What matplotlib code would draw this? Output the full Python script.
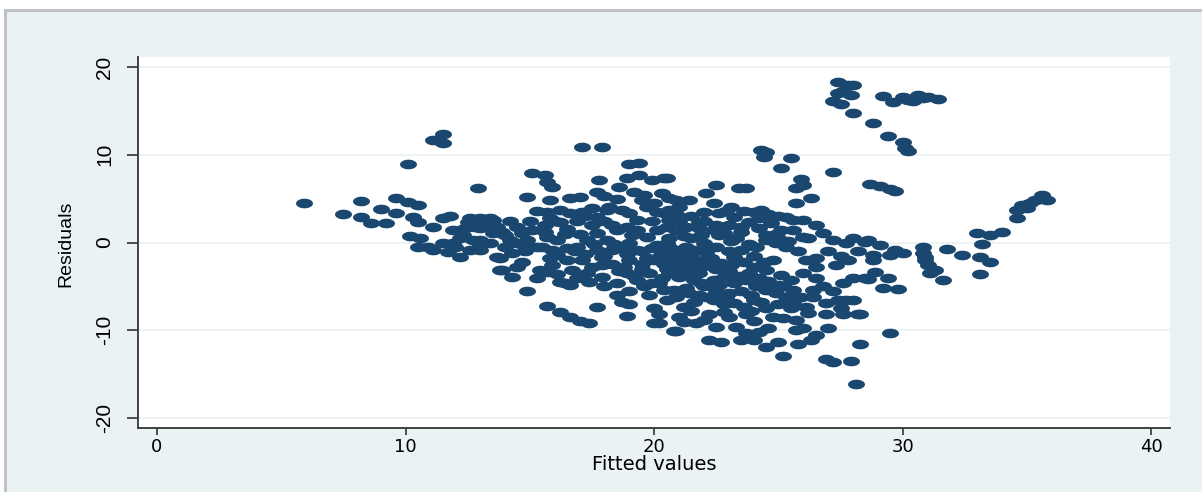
import numpy as np
import matplotlib
matplotlib.use("Agg")
import matplotlib.pyplot as plt
from matplotlib import font_manager
from matplotlib.path import Path
from matplotlib.patches import Rectangle
from matplotlib.lines import Line2D

plt.rcParams["axes.unicode_minus"] = False

# fitted values / residuals, grouped by region
fitted = [
    # left tail
    5.9, 7.5, 8.2, 8.2, 8.6, 9.0, 9.2, 9.6, 10.1, 10.1,
    10.5, 9.6, 10.3, 10.5, 10.2, 10.6, 10.5, 10.9, 11.1, 11.1,
    11.5, 11.5, 11.5, 11.8, 11.1, 12.9, 11.7, 12.2, 11.9, 12.5,
    13.0, 13.5, 12.3, 12.7, 13.0, 11.9, 13.0, 13.7, 13.8, 13.5,
    11.5, 12.0, 12.2, 12.8, 13.5, 14.0,
    # 13 - 21
    17.1, 17.9, 19.0, 19.4, 15.1, 15.6, 15.7, 15.9, 17.8, 18.9,
    19.4, 19.9, 20.4, 14.9, 15.8, 16.6, 17.0, 17.7, 18.0, 18.6,
    19.2, 19.6, 20.3, 20.6, 15.3, 15.7, 16.2, 16.6, 17.1, 17.5,
    18.1, 18.7, 19.0, 19.7, 20.1, 20.6, 15.8, 15.6, 16.2, 12.6,
    12.9, 13.4, 13.0, 13.7, 13.9, 14.5, 14.7, 15.1, 13.0, 13.4,
    14.0, 14.5, 14.9, 15.3, 15.7, 16.1, 16.5, 16.9, 17.3, 17.7,
    18.1, 18.5, 18.9, 19.3, 19.7, 20.1, 20.5, 20.9, 13.8, 14.3,
    14.7, 13.9, 14.3, 14.9, 15.4, 15.8, 16.1, 15.3, 15.7, 16.2,
    16.6, 16.7, 17.1, 17.5, 17.9, 18.3, 17.4, 17.9, 18.5, 18.9,
    19.3, 19.6, 19.9, 20.4, 17.7, 15.7, 16.2, 16.6, 17.0, 17.4,
    18.9, 20.0, 20.8, 20.4, 20.8, 20.2, 19.5, 20.6, 20.1, 18.7,
    18.3, 17.7, 12.6, 16.5, 16.0, 17.0, 15.5, 14.8, 18.0, 17.5,
    16.8, 18.0, 18.8, 19.5, 20.3, 19.0, 20.0, 19.8, 19.0, 18.5,
    18.0, 20.5, 19.0, 19.0, 19.5, 20.0, 19.8, 18.5, 19.5, 20.0,
    18.2, 16.4, 17.2, 14.5, 18.7,
    # dense core 20 - 29
    20.5, 22.5, 23.4, 23.7, 22.1, 21.4, 20.9, 22.4, 23.1, 24.3,
    22.6, 23.2, 24.0, 25.3, 25.6, 26.0, 20.4, 20.6, 21.3, 21.8,
    22.4, 22.8, 23.5, 24.2, 24.7, 25.1, 25.6, 26.0, 26.8, 27.2,
    27.7, 28.5, 23.3, 24.1, 24.5, 24.9, 25.3, 26.1, 26.5, 26.5,
    27.3, 27.8, 28.0, 28.5, 20.5, 20.9, 21.3, 21.7, 22.1, 20.8,
    21.2, 21.6, 22.4, 23.2, 23.6, 24.0, 24.5, 25.1, 25.5, 20.6,
    21.0, 21.6, 22.0, 22.4, 22.8, 23.2, 23.7, 24.1, 24.5, 24.9,
    25.3, 25.9, 26.1, 20.2, 20.8, 21.4, 22.1, 22.9, 23.2, 21.2,
    22.2, 22.8, 23.7, 25.2, 25.7, 26.9, 27.4, 27.7, 26.9, 27.6,
    28.2, 20.2, 21.2, 21.7, 20.9, 23.3, 23.7, 24.2, 24.6, 25.7,
    26.0, 27.0, 22.2, 22.7, 23.5, 24.0, 24.5, 25.0, 25.8, 26.3,
    25.2, 28.3, 26.9, 27.2, 27.9, 28.1, 29.5, 28.3, 21.0, 21.5,
    22.0, 21.2, 21.8, 22.5, 22.0, 21.5, 22.5, 23.0, 23.5, 23.0,
    23.8, 24.2, 23.5, 22.5, 21.8, 22.8, 24.0, 24.5, 25.0, 25.5,
    21.0, 21.5, 22.0, 22.5, 23.0, 23.8, 24.5, 25.0, 25.8, 26.0,
    26.5, 26.8, 27.2, 25.2, 24.8, 24.0, 23.5, 22.0, 21.0, 21.5,
    21.0, 22.0, 23.0, 24.0, 24.8, 26.5, 27.5, 28.0, 26.2, 25.0,
    24.2, 26.5, 26.2, 27.0, 27.5, 28.2, 28.0,
    # filling the crowded middle
    20.3, 20.7, 21.1, 21.4, 21.9, 22.3, 22.7, 23.1, 23.4, 22.6,
    21.9, 21.3, 20.9, 21.6, 22.4, 23.0, 23.9, 24.3, 23.6, 24.6,
    25.0, 25.6, 24.4, 23.8, 23.1, 22.6, 21.9, 21.2, 20.6, 19.9,
    19.3, 18.9, 19.7, 20.5, 19.2, 18.6, 17.9, 17.3, 16.9, 16.1,
    15.9, 16.5, 17.2, 17.6, 18.4, 19.1, 18.3, 17.7, 16.9, 16.4,
    15.6, 15.0, 14.2, 13.2, 12.4, 14.2, 14.8, 15.9, 24.9, 25.4,
    24.6, 23.6, 22.9, 21.8, 20.9, 19.9, 19.3, 20.2, 22.5, 23.9,
    25.6, 26.4, 26.4, 27.6,
    # upper right arm
    24.5, 24.4, 25.5, 25.1, 27.2, 25.9, 26.0, 25.7, 26.3, 25.7,
    24.3, 27.4, 27.8, 27.4, 27.2, 27.5, 27.6, 27.9, 28.0, 28.8,
    29.4, 30.0, 30.2, 30.1, 29.2, 29.6, 30.0, 30.2, 30.4, 30.6,
    31.0, 31.4, 30.8, 28.7, 29.1, 29.5, 29.7, 28.0,
    # right tail
    28.6, 29.1, 28.8, 28.8, 29.5, 29.7, 30.0, 28.9, 29.4, 28.6,
    29.2, 29.8, 30.8, 30.8, 30.9, 31.0, 31.3, 31.6, 31.8, 32.4,
    33.0, 33.5, 34.0, 33.2, 33.1, 33.5, 33.1, 34.6, 34.6, 34.8,
    35.1, 35.3, 35.6, 35.8, 35.0, 30.9, 31.1, 35.5,
]
residuals = [
    # left tail
    4.5, 3.2, 4.7, 2.9, 2.2, 3.8, 2.2, 5.1, 9.0, 4.6,
    4.3, 3.4, 2.9, 2.3, 0.7, 0.5, -0.5, -0.5, -0.9, 11.7,
    12.4, 11.3, 2.8, 3.0, 1.8, 6.2, -1.1, -1.7, 1.4, 2.3,
    2.8, 2.6, 0.9, 0.3, -0.3, -0.1, -0.9, -1.7, -3.1, 1.1,
    0.0, -0.5, 0.5, 1.8, 2.0, 0.8,
    # 13 - 21
    10.9, 10.9, 8.9, 9.1, 7.9, 7.7, 6.9, 6.3, 7.1, 7.4,
    7.7, 7.1, 7.4, 5.2, 4.8, 5.1, 5.2, 5.8, 5.3, 6.3,
    5.8, 5.4, 5.6, 5.1, 3.6, 3.5, 3.7, 3.4, 3.5, 3.9,
    3.7, 3.7, 3.4, 4.0, 3.5, 3.7, 2.8, 2.0, 2.3, 2.8,
    2.6, 2.8, 1.7, 1.8, 1.2, 1.8, 1.1, 1.4, 0.3, -0.1,
    -0.5, -0.1, 0.3, -0.5, 0.6, 0.3, -0.6, -0.5, 0.3, 1.1,
    0.3, 1.4, 1.8, 1.4, 0.6, 1.4, 1.8, 1.4, -1.8, -1.2,
    -2.2, -3.1, -3.9, -5.5, -3.1, -1.8, -1.4, -4.0, -3.4, -4.5,
    -4.8, -3.1, -2.0, -2.8, -1.6, -2.4, -4.5, -3.9, -4.6, -3.5,
    -4.3, -5.0, -4.6, -5.4, -7.3, -7.2, -7.9, -8.5, -9.0, -9.2,
    -8.4, -9.2, -10.1, -2.4, -3.1, -1.6, -2.4, -0.5, -0.3, -0.5,
    -0.9, -0.9, -0.9, 1.5, 2.5, 1.0, -0.5, -1.0, 2.5, 2.0,
    -1.0, -1.5, -2.8, -3.0, -4.0, -7.0, -7.5, -6.0, -5.5, -6.0,
    -5.0, -6.5, 0.0, -2.0, -1.0, -2.0, -3.5, 5.0, 4.8, 4.5,
    4.0, -4.6, 3.0, -2.8, -6.8,
    # dense core 20 - 29
    7.3, 6.6, 6.2, 6.2, 5.6, 4.8, 4.8, 4.5, 4.1, 3.7,
    3.4, 2.9, 3.5, 2.9, 2.6, 2.6, 3.4, 2.6, 1.8, 1.7,
    1.4, 1.1, 1.2, 1.7, 2.2, 1.4, 1.4, 0.6, 1.1, 0.3,
    -0.1, 0.1, 0.5, -0.5, 0.3, -0.1, -0.5, -2.0, -1.8, -2.8,
    -2.6, -2.0, -4.0, -4.0, -0.1, -0.9, -0.5, -0.9, -1.1, -1.6,
    -2.0, -2.4, -2.6, -1.6, -2.2, -2.8, -3.1, -3.7, -4.3, -3.5,
    -3.9, -4.3, -5.0, -4.3, -3.9, -4.6, -4.3, -5.0, -5.4, -5.8,
    -6.2, -6.2, -7.3, -4.6, -5.4, -5.8, -6.2, -6.2, -6.9, -7.3,
    -8.1, -7.9, -8.2, -8.6, -8.8, -6.9, -6.6, -6.6, -8.1, -8.1,
    -8.1, -9.2, -9.1, -9.2, -10.1, -9.6, -10.3, -10.2, -9.8, -10.0,
    -9.8, -9.8, -11.1, -11.3, -11.1, -11.1, -11.9, -11.4, -11.6, -11.1,
    -12.9, -11.6, -13.3, -13.6, -13.5, -16.1, -10.3, -8.1, -1.0, -1.5,
    -2.0, -3.0, -3.5, -3.0, 0.0, 0.5, -0.5, -1.0, -0.8, -3.2,
    -3.5, -4.0, -5.5, -5.5, -6.0, -7.0, -6.5, -7.5, -7.0, -7.5,
    2.5, 3.0, 2.5, 2.0, 2.0, 2.3, 0.8, 0.5, -1.0, -3.5,
    -4.0, -5.0, -5.5, -5.0, -2.0, -1.5, 1.8, 3.5, 4.0, -7.8,
    -8.5, -8.8, -8.5, -9.0, -8.5, -10.5, -7.5, -6.5, -8.0, 3.0,
    2.8, 2.0, 0.5, -1.0, -1.5, -1.0, 0.5,
    # filling the crowded middle
    -1.2, -2.6, -1.8, -3.4, -2.8, -1.8, -2.3, -2.6, -3.8, -4.8,
    -4.6, -5.2, -6.2, -6.8, -6.6, -5.8, -6.0, -6.8, -7.4, -4.4,
    -4.8, -5.4, -2.2, -0.2, 0.2, 0.8, 0.9, 0.7, 0.5, -0.6,
    -0.8, -1.3, -1.8, -3.0, -3.8, -3.2, -2.6, -3.5, -4.0, -3.6,
    -2.6, -2.0, -1.3, -0.2, -0.2, 0.8, 2.0, 2.9, 2.4, 1.0,
    1.2, 2.4, 2.5, 2.2, 1.6, 0.3, -0.5, -0.8, 1.0, 0.2,
    3.2, 3.6, 3.6, 2.3, 3.2, 2.4, 2.6, -8.2, -9.6, -7.8,
    -6.8, -6.2, -5.4, -4.6,
    # upper right arm
    10.3, 9.7, 9.6, 8.5, 8.0, 7.2, 6.6, 6.2, 5.1, 4.5,
    10.5, 18.3, 18.0, 17.0, 16.1, 15.8, 17.3, 16.8, 14.8, 13.6,
    12.1, 11.5, 10.4, 10.8, 16.7, 16.0, 16.6, 16.2, 16.1, 16.8,
    16.6, 16.4, 16.5, 6.7, 6.4, 6.1, 5.9, 18.0,
    # right tail
    0.3, -0.3, -1.4, -2.0, -1.4, -0.9, -1.2, -3.4, -4.1, -4.2,
    -5.2, -5.3, -0.5, -1.2, -2.0, -2.6, -3.1, -4.3, -0.7, -1.4,
    1.1, 0.9, 1.2, -0.2, -1.6, -2.2, -3.6, 2.8, 3.7, 4.3,
    4.5, 4.8, 5.4, 4.8, 3.9, -1.6, -3.5, 5.0,
]

x_ticks = [0, 10, 20, 30, 40]
y_ticks = [-20, -10, 0, 10, 20]

# narrow face for the vertical texts if one is installed
narrow = "DejaVu Sans"
narrow_size = 13
for name in ["Liberation Sans Narrow", "Liberation Sans", "Roboto"]:
    try:
        font_manager.findfont(font_manager.FontProperties(family=name),
                              fallback_to_default=False)
        narrow = name
        narrow_size = 16 if "Narrow" in name else 15
        break
    except ValueError:
        pass

W, H = 1202, 492
fig = plt.figure(figsize=(W / 100, H / 100), dpi=100, facecolor="white")

# stata-like graph region with grey border on left/top
fig.patches.append(Rectangle((5 / W, 0), 1 - 5 / W, 1 - 10 / H, transform=fig.transFigure,
                             facecolor="#eaf2f3", edgecolor="none", zorder=-5))
fig.lines.append(Line2D([4.5 / W, 4.5 / W], [0, 1 - 9.5 / H], transform=fig.transFigure,
                        color="#c2c2c7", lw=2.2, zorder=-4))
fig.lines.append(Line2D([4.5 / W, 1], [1 - 9.5 / H, 1 - 9.5 / H], transform=fig.transFigure,
                        color="#c2c2c7", lw=2.2, zorder=-4))

ax = fig.add_axes([138 / W, 1 - 428 / H, (1170 - 138) / W, (428 - 57) / H])
ax.set_facecolor("white")

# elliptical marker (the reference is stretched sideways)
t = np.linspace(0, 2 * np.pi, 40)
ellipse = Path(np.column_stack([np.cos(t), 0.57 * np.sin(t)]), closed=True)
ax.scatter(fitted, residuals, marker=ellipse, s=12.2 ** 2, color="#1a476f",
           linewidths=0, zorder=3)

ax.set_xlim(-0.76, 40.75)
ax.set_ylim(-21.15, 21.15)
ax.set_xticks(x_ticks)
ax.set_yticks(y_ticks)
ax.grid(axis="y", color="#eaf2f3", lw=1.3, zorder=0)
ax.set_axisbelow(True)

for s in ["top", "right"]:
    ax.spines[s].set_visible(False)
for s in ["left", "bottom"]:
    ax.spines[s].set_color("#333333")
    ax.spines[s].set_linewidth(1.3)

ax.tick_params(axis="x", length=5, width=1.2, color="#333333", pad=2,
               labelsize=13, labelcolor="black")
ax.tick_params(axis="y", length=8, width=1.2, color="#333333", pad=9,
               labelsize=narrow_size, labelcolor="black")
for lab in ax.get_yticklabels():
    lab.set_rotation(90)
    lab.set_va("center")
    lab.set_family(narrow)

fig.text(654 / W, 1 - 464 / H, "Fitted values", ha="center", va="center",
         fontsize=14, color="black")
fig.text(66 / W, 1 - 244 / H, "Residuals", ha="center", va="center", rotation=90,
         fontsize=narrow_size - 1, color="black", family=narrow)

fig.savefig("out.png", dpi=100, facecolor=fig.get_facecolor())
